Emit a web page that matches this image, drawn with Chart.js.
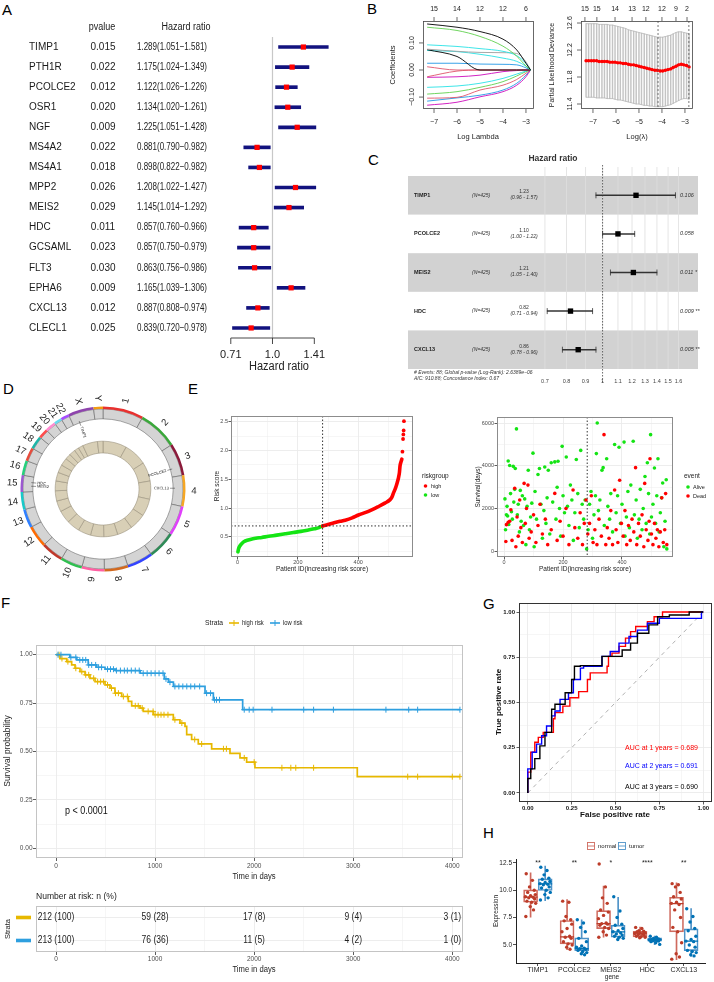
<!DOCTYPE html>
<html>
<head>
<meta charset="utf-8">
<title>Figure</title>
<script src="https://cdn.jsdelivr.net/npm/chart.js@4.4.1/dist/chart.umd.min.js"></script>
<style>
html,body{margin:0;padding:0;background:#fff}
body{width:714px;height:982px;position:relative;overflow:hidden;font-family:"Liberation Sans",Arial,sans-serif}
canvas{position:absolute}
.pl{position:absolute;font-size:15px;line-height:15px;color:#000}
</style>
</head>
<body>
<div class="pl" style="left:2px;top:2px">A</div>
<div class="pl" style="left:367px;top:1px">B</div>
<div class="pl" style="left:368px;top:152px">C</div>
<div class="pl" style="left:3px;top:381px">D</div>
<div class="pl" style="left:188px;top:381px">E</div>
<div class="pl" style="left:1px;top:595px">F</div>
<div class="pl" style="left:483px;top:596px">G</div>
<div class="pl" style="left:483px;top:825px">H</div>
<script>
// ===================== DATA =====================
// Panel A: univariate Cox
const aGenes = ['TIMP1','PTH1R','PCOLCE2','OSR1','NGF','MS4A2','MS4A1','MPP2','MEIS2','HDC','GCSAML','FLT3','EPHA6','CXCL13','CLECL1'];
const aPvalue = ['0.015','0.022','0.012','0.020','0.009','0.022','0.018','0.026','0.029','0.011','0.023','0.030','0.009','0.012','0.025'];
const aHR   = [1.289,1.175,1.122,1.134,1.225,0.881,0.898,1.208,1.145,0.857,0.857,0.863,1.165,0.887,0.839];
const aLow  = [1.051,1.024,1.026,1.020,1.051,0.790,0.822,1.022,1.014,0.760,0.750,0.756,1.039,0.808,0.720];
const aHigh = [1.581,1.349,1.226,1.261,1.428,0.982,0.982,1.427,1.292,0.966,0.979,0.986,1.306,0.974,0.978];
const aTicks = [0.71, 1.0, 1.41];
const aTickLabels = ['0.71','1.0','1.41'];

// Panel B left: LASSO coefficient paths
const bLam = [-7.3,-6,-5,-4,-3.4,-3,-2.8];
const bPaths = [
  [0.170,0.158,0.142,0.114,0.074,0.025,0],
  [0.158,0.146,0.124,0.088,0.051,0.015,0],
  [0.093,0.087,0.079,0.069,0.053,0.024,0],
  [0.077,0.069,0.065,0.064,0.061,0.030,0],
  [0.075,0.050,0,0,0,0,0],
  [0.072,0.068,0.058,0.044,0.032,0.014,0],
  [0.025,0.025,0.022,0.021,0.019,0.008,0],
  [0.012,0,0,0,0,0,0],
  [-0.025,-0.004,0,0,0,0,0],
  [-0.027,-0.025,-0.019,-0.006,-0.002,0,0],
  [-0.064,-0.059,-0.049,-0.031,-0.015,-0.004,0],
  [-0.089,-0.080,-0.064,-0.043,-0.022,-0.006,0],
  [-0.104,-0.101,-0.074,-0.056,-0.035,-0.012,0],
  [-0.130,-0.119,-0.099,-0.080,-0.056,-0.025,0],
  [-0.115,-0.103,-0.093,-0.074,-0.049,-0.019,0]
];
const bTopTicks = [-7,-6,-5,-4,-3];
const bTopLabels = ['15','14','12','12','6'];
const bXTicks = [-7,-6,-5,-4,-3];
const bYTicks = [-0.1,0,0.1];

// Panel B right: cross-validation
const bcvLam = [-7.30,-7.19,-7.07,-6.96,-6.84,-6.73,-6.61,-6.50,-6.38,-6.27,-6.15,-6.04,-5.92,-5.81,-5.69,-5.58,-5.46,-5.35,-5.23,-5.12,-5.00,-4.89,-4.77,-4.66,-4.54,-4.43,-4.31,-4.20,-4.08,-3.97,-3.85,-3.74,-3.62,-3.51,-3.39,-3.28,-3.16,-3.05,-2.93,-2.82];
const bcvMean = [12.04,12.04,12.04,12.04,12.04,12.03,12.03,12.03,12.03,12.02,12.02,12.02,12.01,12.01,12.00,12.00,11.99,11.98,11.98,11.97,11.96,11.95,11.94,11.93,11.92,11.91,11.90,11.90,11.89,11.89,11.90,11.91,11.92,11.94,11.96,11.98,11.99,11.98,11.97,11.95];
const bcvUp = [12.59,12.59,12.59,12.59,12.59,12.58,12.58,12.58,12.58,12.57,12.57,12.56,12.55,12.54,12.53,12.52,12.50,12.49,12.48,12.47,12.46,12.45,12.44,12.43,12.42,12.41,12.40,12.39,12.39,12.39,12.40,12.41,12.42,12.44,12.46,12.47,12.47,12.46,12.45,12.44];
const bcvLo = [11.50,11.50,11.50,11.50,11.49,11.49,11.49,11.49,11.48,11.48,11.48,11.47,11.46,11.46,11.45,11.44,11.43,11.42,11.41,11.40,11.40,11.39,11.38,11.38,11.37,11.37,11.36,11.36,11.36,11.36,11.37,11.38,11.39,11.41,11.43,11.45,11.47,11.48,11.48,11.47];
const bcvTopPos = [-7.35,-6.83,-6.04,-5.3,-4.7,-4.0,-3.39,-2.91];
const bcvTopLabels = ['15','15','14','13','12','12','9','2'];
const bcvYTicks = [11.4,11.8,12.2,12.6];
const bcvLambdaMin = -4.17, bcvLambda1se = -2.83;

// Panel C: multivariate Cox
const cGenes = ['TIMP1','PCOLCE2','MEIS2','HDC','CXCL13'];
const cN = ['(N=425)','(N=425)','(N=425)','(N=425)','(N=425)'];
const cHR = [1.23,1.10,1.21,0.82,0.86];
const cLow = [0.96,1.00,1.05,0.71,0.78];
const cHigh = [1.57,1.22,1.40,0.94,0.96];
const cP = ['0.106','0.058','0.011 *','0.009 **','0.005 **'];
const cTicks = [0.7,0.8,0.9,1,1.1,1.2,1.3,1.4,1.5,1.6];
const cTickLabels = ['0.7','0.8','0.9','1','1.1','1.2','1.3','1.4','1.5','1.6'];
const cFooter = ['# Events: 88; Global p-value (Log-Rank): 2.6389e\u221206','AIC: 910.88; Concordance Index: 0.67'];

// Panel D: chromosomes (Mb) and gene locations
const dChr = ['1','2','3','4','5','6','7','8','9','10','11','12','13','14','15','16','17','18','19','20','21','22','X','Y'];
const dLen = [248,242,198,190,181,171,159,145,138,134,135,133,114,107,102,90,83,80,59,64,47,51,156,57];
const dGenes = ['TIMP1','PCOLCE2','CXCL13','MEIS2','HDC'];
const dGeneChr = ['X','3','4','15','15'];
const dGenePos = [47.6,142.8,77.6,36.9,50.2];

// Panel E left: risk score curve (patient index, risk score)
const eRiskLow = [[1,0.24],[3,0.29],[6,0.33],[10,0.36],[15,0.39],[22,0.42],[32,0.44],[45,0.46],[60,0.475],[80,0.49],[103,0.51],[130,0.53],[158,0.553],[185,0.575],[210,0.595],[235,0.62],[255,0.64],[270,0.66],[281,0.685]];
const eRiskHigh = [[282,0.69],[300,0.715],[320,0.745],[340,0.77],[357,0.79],[380,0.83],[401,0.88],[425,0.925],[445,0.97],[465,1.02],[490,1.09],[506,1.147],[512,1.19],[517,1.26],[522,1.32],[526,1.38],[530,1.45],[534,1.53],[537,1.62],[539,1.735],[542,1.80],[545,1.85]];
const eRiskTop = [[547,1.98],[549,2.20],[550,2.28],[551,2.35],[552,2.51]];
const eCutPatient = 282, eCutScore = 0.69;

// Panel E right: survival status (patient index, days)
const eAlive = [[3,2450],[5,1000],[8,1700],[10,2100],[12,1650],[14,4230],[16,1250],[19,4020],[22,2700],[25,1850],[28,1500],[31,3980],[33,2300],[36,2900],[38,3880],[42,5740],[45,1700],[48,2200],[52,900],[55,2850],[58,1400],[62,2600],[66,1200],[70,2450],[74,300],[78,2100],[82,3800],[86,1000],[90,1600],[94,2250],[98,4600],[102,200],[105,2800],[110,1500],[115,3600],[120,3880],[125,2200],[130,600],[135,1900],[138,3950],[142,1300],[146,2500],[150,3800],[155,800],[160,4150],[165,2300],[172,4190],[176,1500],[180,3000],[183,4220],[188,2000],[192,700],[197,4920],[200,2600],[205,1800],[211,4420],[215,2100],[220,1200],[225,3100],[230,2400],[235,500],[240,1800],[245,4300],[250,2700],[255,1100],[260,4730],[265,2200],[270,1500],[275,2400],[280,100],[285,1000],[290,2200],[295,2800],[300,600],[305,1700],[310,2600],[313,4580],[316,6020],[320,1900],[325,2400],[332,3800],[336,3920],[340,1200],[348,4340],[352,2100],[358,1500],[362,2700],[368,900],[375,5010],[380,1800],[385,2600],[390,4880],[395,1300],[400,2200],[407,5120],[410,700],[415,1600],[420,2800],[425,1100],[430,3100],[438,5160],[442,1700],[448,2400],[452,600],[458,1500],[462,2900],[468,1000],[472,2000],[478,3500],[482,1300],[486,4150],[490,2700],[494,800],[497,5470],[500,1600],[505,2200],[510,3900],[514,1300],[518,2600],[522,4340],[526,900],[530,1800],[534,2500],[538,3200],[542,200],[546,1400],[550,3350],[552,100]];
const eDead = [[6,450],[8,1240],[14,1350],[19,1400],[23,1940],[27,500],[36,2950],[40,200],[44,1600],[48,700],[53,2400],[57,1100],[62,400],[68,3180],[72,1300],[76,2000],[81,3100],[85,600],[92,900],[100,1700],[108,400],[115,1200],[122,2200],[130,800],[140,1500],[148,300],[160,1000],[172,2710],[180,500],[190,1400],[200,700],[210,2000],[220,300],[234,2870],[240,1100],[250,600],[258,1800],[266,300],[272,1300],[278,2400],[284,800],[290,1300],[296,2600],[302,400],[308,1000],[315,300],[322,1500],[330,700],[339,5470],[345,300],[350,1100],[356,600],[362,1900],[368,300],[375,2870],[380,1000],[386,400],[392,3330],[398,1300],[404,700],[410,1900],[416,300],[422,1200],[428,500],[434,1500],[440,900],[446,3920],[450,300],[456,1300],[462,700],[468,1700],[474,200],[477,3180],[482,1000],[488,500],[492,1400],[495,4340],[500,800],[505,300],[510,1300],[515,600],[520,1000],[525,200],[530,900],[535,2500],[540,400],[545,1000],[548,2700],[552,300]];

// Panel F: Kaplan-Meier (time, survival after time)
const fHigh = [[0,1],[40,0.98],[108,0.964],[158,0.947],[192,0.93],[242,0.913],[293,0.896],[343,0.878],[394,0.861],[495,0.844],[545,0.827],[595,0.801],[663,0.784],[730,0.759],[764,0.736],[848,0.724],[881,0.707],[982,0.69],[1184,0.664],[1251,0.647],[1302,0.63],[1319,0.587],[1369,0.562],[1436,0.539],[1571,0.514],[1756,0.49],[1857,0.467],[1924,0.445],[2008,0.416],[3041,0.37],[4077,0.37]];
const fLow = [[0,1],[140,0.986],[210,0.973],[325,0.947],[410,0.935],[495,0.925],[600,0.918],[850,0.904],[1093,0.875],[1135,0.858],[1185,0.836],[1504,0.801],[1588,0.767],[1884,0.716],[4077,0.716]];
const fHighCens = [30,60,120,200,260,300,330,380,420,450,480,520,560,600,630,680,720,800,830,870,930,980,1000,1030,1060,1090,1130,1200,1270,1400,1470,1690,1720,1900,2000,2280,2370,2420,2600,3550,3650,4000,4077];
const fLowCens = [20,50,150,200,240,270,300,330,360,400,430,460,520,550,580,610,650,690,720,760,800,840,880,920,960,1000,1040,1080,1110,1150,1200,1240,1280,1320,1360,1400,1450,1520,1560,1600,1620,1650,1900,1950,1990,2180,2500,2600,2800,3330,3560,3650,4077];
const fRiskTimes = [0,1000,2000,3000,4000];
const fRiskHighN = [212,59,17,9,3], fRiskHighPct = [100,28,8,4,1];
const fRiskLowN = [213,76,11,4,1], fRiskLowPct = [100,36,5,2,0];
const fStrata = ['high risk','low risk'];

// Panel G: time-dependent ROC (FPR, TPR)
const gRoc1 = [[0,0],[0.017,0.115],[0.04,0.225],[0.06,0.28],[0.088,0.307],[0.146,0.335],[0.155,0.41],[0.2,0.444],[0.24,0.48],[0.29,0.526],[0.34,0.56],[0.356,0.627],[0.452,0.664],[0.46,0.7],[0.48,0.755],[0.52,0.773],[0.557,0.81],[0.586,0.856],[0.615,0.892],[0.682,0.92],[0.72,0.947],[0.768,0.974],[0.816,1.0],[1,1]];
const gRoc2 = [[0,0],[0.025,0.133],[0.05,0.225],[0.079,0.27],[0.107,0.316],[0.136,0.37],[0.155,0.426],[0.184,0.453],[0.232,0.517],[0.26,0.554],[0.3,0.627],[0.318,0.69],[0.423,0.7],[0.47,0.755],[0.52,0.782],[0.577,0.828],[0.625,0.865],[0.682,0.9],[0.75,0.938],[0.826,0.965],[0.99,0.965],[1,1]];
const gRoc3 = [[0,0],[0.017,0.08],[0.04,0.133],[0.069,0.19],[0.098,0.26],[0.136,0.335],[0.155,0.463],[0.213,0.49],[0.25,0.554],[0.266,0.627],[0.3,0.7],[0.423,0.704],[0.46,0.755],[0.538,0.755],[0.586,0.79],[0.625,0.828],[0.69,0.883],[0.74,0.929],[0.807,0.974],[0.92,0.984],[1,1]];
const gAUC = ['AUC at 1 years = 0.689','AUC at 2 years = 0.691','AUC at 3 years = 0.690'];

// Panel H: expression boxplots
const hCats = ['TIMP1','PCOLCE2','MEIS2','HDC','CXCL13'];
const hSig = ['**','**','*','****','**'];
const hNormQ1 = [8.90,5.09,6.49,5.73,6.19], hNormMed = [9.36,5.73,6.95,6.07,8.78], hNormQ3 = [10.03,7.23,8.14,6.25,9.36], hNormLo = [7.53,4.57,5.70,5.64,3.66], hNormHi = [11.58,9.15,10.37,6.62,10.67];
const hTumQ1 = [9.97,4.48,5.70,5.34,4.48], hTumMed = [10.58,4.66,6.19,5.49,5.34], hTumQ3 = [11.04,5.64,6.80,5.64,6.46], hTumLo = [9.05,4.12,5.43,5.03,3.96], hTumHi = [12.20,7.29,9.36,5.80,8.32];
const hNormPts = [
  [11.5,10.9,10.3,10.0,9.8,9.6,9.5,9.4,9.35,9.3,9.2,9.0,8.9,8.8,8.5,8.2,7.6],
  [9.0,8.9,7.6,7.3,7.2,6.9,6.5,6.2,5.8,5.7,5.6,5.3,5.1,5.0,4.8,4.6],
  [12.4,10.3,9.3,8.8,8.2,8.0,7.7,7.4,7.0,6.95,6.9,6.8,6.6,6.5,6.2,5.9,5.7],
  [6.6,6.5,6.3,6.25,6.2,6.1,6.07,6.05,6.0,5.95,5.9,5.8,5.75,5.7,5.65],
  [10.6,10.5,10.3,9.8,9.4,9.2,8.9,8.8,8.7,8.2,7.5,6.6,6.2,5.2,4.2,3.9,3.7]
];
const hTumPts = [
  [12.1,11.8,11.4,11.1,11.0,10.8,10.7,10.6,10.55,10.5,10.3,10.2,10.0,9.8,9.6,9.3,9.1],
  [7.3,7.0,6.6,6.2,5.6,5.3,4.9,4.8,4.7,4.65,4.6,4.5,4.4,4.3,4.2,4.1],
  [9.4,8.1,7.5,6.9,6.8,6.5,6.3,6.2,6.1,6.0,5.9,5.8,5.7,5.6,5.5],
  [5.8,5.7,5.6,5.55,5.5,5.5,5.48,5.45,5.4,5.38,5.35,5.3,5.2,5.05],
  [8.3,7.6,7.1,6.5,6.3,5.8,5.5,5.35,5.3,5.0,4.8,4.5,4.4,4.3,4.1,4.0]
];
const hYTicks = [5,7.5,10,12.5];

// ===================== STYLE CONSTANTS =====================
const FAM = '"Liberation Sans", Arial, Helvetica, sans-serif';
const PATH_COLORS = ['#000000','#61D04F','#28E2E5','#9e9e9e','#000000','#28E2E5','#2297E6','#DF536B','#DF536B','#CD0BBC','#28E2E5','#61D04F','#DF536B','#CD0BBC','#2297E6'];
const CHR_COLORS = ['#e8312f','#3aa83a','#8b1a3a','#f5a623','#e040fb','#2e8b57','#3344ff','#d2691e','#ff5fa2','#2fbf4f','#c0392b','#ff6a00','#2f7fff','#19c9c9','#9b59d0','#26d07c','#e74c3c','#1fb5a8','#ff4d4d','#ff8ad0','#66d9ef','#a64dff','#8e44ad','#f39c12'];
const JITTER = [-0.12,0.05,-0.03,0.10,-0.08,0.13,0.0,-0.14,0.07,-0.05,0.11,-0.10,0.03,0.14,-0.01,0.08,-0.13];
const GREEN = '#14e414', RED = '#ff0000';

Chart.defaults.font.family = FAM;
Chart.defaults.color = '#333';
Chart.defaults.animation = false;
Chart.defaults.events = [];
Chart.defaults.responsive = false;
Chart.defaults.maintainAspectRatio = false;
Chart.defaults.plugins.legend.display = false;
Chart.defaults.plugins.tooltip.enabled = false;

function mk(L,T,W,H){
  const c=document.createElement('canvas');
  c.width=W; c.height=H;
  c.style.left=L+'px'; c.style.top=T+'px'; c.style.width=W+'px'; c.style.height=H+'px';
  document.body.appendChild(c); return c;
}
function tx(ctx,s,x,y,o){
  o=o||{}; ctx.save();
  ctx.font=[o.style,o.weight,(o.size||8)+'px',FAM].filter(Boolean).join(' ');
  ctx.fillStyle=o.color||'#222'; ctx.textAlign=o.align||'left'; ctx.textBaseline=o.base||'middle';
  ctx.translate(x,y); if(o.rot) ctx.rotate(o.rot); if(o.sx) ctx.scale(o.sx,1);
  ctx.fillText(s,0,0); ctx.restore();
}
function ln(ctx,x1,y1,x2,y2,col,w,dash){
  ctx.save(); ctx.strokeStyle=col; ctx.lineWidth=w||1; if(dash) ctx.setLineDash(dash);
  ctx.beginPath(); ctx.moveTo(x1,y1); ctx.lineTo(x2,y2); ctx.stroke(); ctx.restore();
}
function deco(L,T,before,after){
  const run=(fn,ch)=>{ if(!fn) return; const c=ch.ctx; c.save(); c.translate(-L,-T);
    fn(ch,c,(v)=>ch.scales.x.getPixelForValue(v)+L,(v)=>ch.scales.y.getPixelForValue(v)+T); c.restore(); };
  return {id:'deco', beforeDatasetsDraw(ch){run(before,ch);}, afterDatasetsDraw(ch){run(after,ch);}};
}
function frame(ch,c,L,T,col,w){
  const a=ch.chartArea; c.save(); c.strokeStyle=col; c.lineWidth=w||1;
  c.strokeRect(a.left+L+0.5,a.top+T+0.5,a.right-a.left-1,a.bottom-a.top-1); c.restore();
}
function ggAxis(vals,majors,fmt,o){
  o=o||{};
  const isM=(c)=>c&&c.tick&&majors.includes(c.tick.value);
  return {
    type:'linear', min:o.min, max:o.max, offset:false,
    afterBuildTicks:(s)=>{ s.ticks=vals.map(v=>({value:v})); },
    afterFit:o.fit,
    grid:{offset:false, color:o.gc||'#ebebeb', lineWidth:(c)=>isM(c)?0.9:0.45, drawTicks:true, tickLength:o.tl||2.5,
          tickColor:(c)=>isM(c)?(o.tcc||'#333'):'rgba(0,0,0,0)', tickWidth:0.8},
    border:{display:false},
    ticks:{autoSkip:false, maxRotation:0, minRotation:0, padding:o.pad||0, font:{size:o.fs||5.5, weight:o.fw||'normal'}, color:o.tcol||'#4d4d4d',
           callback:(v)=>majors.includes(v)?fmt(v):''}
  };
}

// ===================== PANEL A =====================
{
  const L=0,T=0,W=360,H=380;
  new Chart(mk(L,T,W,H),{
    type:'bar',
    data:{labels:aGenes, datasets:[
      {type:'scatter', data:aGenes.map((g,i)=>({x:aHR[i],y:g})), pointStyle:'rect', pointRadius:3.7, backgroundColor:'#ff0000', borderWidth:0, order:1},
      {type:'bar', indexAxis:'y', data:aGenes.map((g,i)=>[aLow[i],aHigh[i]]), backgroundColor:'#12127e', barThickness:3, grouped:false, borderWidth:0, order:2}
    ]},
    options:{layout:{padding:{left:225,right:20,top:37,bottom:42}},
      scales:{x:{type:'logarithmic',min:0.677,max:1.741,display:false}, y:{type:'category',labels:aGenes,offset:true,display:false}}},
    plugins:[deco(L,T,(ch,c,X,Y)=>{
      ln(c,X(1),37,X(1),338,'#c8c8c8',1.2);
    },(ch,c,X,Y)=>{
      tx(c,'pvalue',102,27,{size:10,align:'center',color:'#1a1a1a',sx:0.9});
      tx(c,'Hazard ratio',186,27,{size:10,align:'center',color:'#1a1a1a',sx:0.9});
      aGenes.forEach((g,i)=>{
        const y=Y(i);
        tx(c,g,29,y,{size:10,color:'#1a1a1a'});
        tx(c,aPvalue[i],103,y,{size:10,align:'center',color:'#1a1a1a'});
        tx(c,aHR[i].toFixed(3)+'('+aLow[i].toFixed(3)+'\u2212'+aHigh[i].toFixed(3)+')',172,y,{size:10,align:'center',color:'#1a1a1a',sx:0.8});
      });
      ln(c,X(aTicks[0]),338,X(aTicks[aTicks.length-1]),338,'#333',0.9);
      aTicks.forEach((t,i)=>{ ln(c,X(t),338,X(t),344,'#333',0.9); tx(c,aTickLabels[i],X(t),355,{size:11,align:'center',color:'#222'}); });
      tx(c,'Hazard ratio',279,367,{size:12.5,align:'center',color:'#222',sx:0.88});
    })]
  });
}

// ===================== PANEL B left =====================
{
  const L=380,T=0,W=165,H=145;
  new Chart(mk(L,T,W,H),{
    type:'scatter',
    data:{datasets:bPaths.map((p,k)=>({type:'line', data:p.map((v,i)=>({x:bLam[i],y:v})), borderColor:PATH_COLORS[k], borderWidth:0.9, pointRadius:0, cubicInterpolationMode:'monotone'}))},
    options:{layout:{padding:{left:43,top:21,right:11,bottom:36}},
      scales:{x:{type:'linear',min:-7.48,max:-2.65,display:false}, y:{type:'linear',min:-0.144,max:0.181,display:false}}},
    plugins:[deco(L,T,null,(ch,c,X,Y)=>{
      frame(ch,c,L,T,'#444',0.8);
      const a=ch.chartArea, top=a.top+T, bot=a.bottom+T, left=a.left+L;
      bXTicks.forEach(t=>{ ln(c,X(t),bot,X(t),bot+4,'#444',0.8); tx(c,String(t).replace('-','\u2212'),X(t),122,{size:7,align:'center'}); });
      bTopTicks.forEach((t,i)=>{ ln(c,X(t),top,X(t),top-4,'#444',0.8); tx(c,bTopLabels[i],X(t),9,{size:7,align:'center'}); });
      bYTicks.forEach(t=>{ ln(c,left,Y(t),left-4,Y(t),'#444',0.8); tx(c,t.toFixed(2).replace('-','\u2212'),412,Y(t),{size:7,align:'center',rot:-Math.PI/2}); });
      tx(c,'Coefficients',393,65,{size:7.5,align:'center',rot:-Math.PI/2});
      tx(c,'Log Lambda',478,137,{size:7.5,align:'center'});
    })]
  });
}

// ===================== PANEL B right =====================
{
  const L=540,T=0,W=174,H=145;
  new Chart(mk(L,T,W,H),{
    type:'scatter',
    data:{datasets:[
      {type:'line', data:bcvLam.map((x,i)=>({x,y:bcvMean[i]})), borderColor:'#ff0000', backgroundColor:'#ff0000', borderWidth:2.2, pointRadius:1.7, pointBorderWidth:0},
      {type:'line', data:bcvLam.map((x,i)=>({x,y:bcvUp[i]})), borderColor:'#b8b8b8', borderWidth:0.8, pointRadius:0},
      {type:'line', data:bcvLam.map((x,i)=>({x,y:bcvLo[i]})), borderColor:'#b8b8b8', borderWidth:0.8, pointRadius:0},
      {type:'bar', data:bcvLam.map((x,i)=>({x,y:[bcvLo[i],bcvUp[i]]})), backgroundColor:'#c4c4c4', barThickness:0.8, grouped:false, borderWidth:0}
    ]},
    options:{layout:{padding:{left:41,top:21,right:21,bottom:36}},
      scales:{x:{type:'linear',min:-7.52,max:-2.65,display:false,offset:false,grid:{offset:false}}, y:{type:'linear',min:11.326,max:12.63,display:false}}},
    plugins:[deco(L,T,null,(ch,c,X,Y)=>{
      const a=ch.chartArea, top=a.top+T, bot=a.bottom+T, left=a.left+L;
      ln(c,X(bcvLambdaMin),top,X(bcvLambdaMin),bot,'#555',0.8,[2,2]);
      ln(c,X(bcvLambda1se),top,X(bcvLambda1se),bot,'#555',0.8,[2,2]);
      frame(ch,c,L,T,'#444',0.8);
      bXTicks.forEach(t=>{ ln(c,X(t),bot,X(t),bot+4,'#444',0.8); tx(c,String(t).replace('-','\u2212'),X(t),122,{size:7,align:'center'}); });
      bcvTopPos.forEach((t,i)=>{ ln(c,X(t),top,X(t),top-4,'#444',0.8); tx(c,bcvTopLabels[i],X(t),9,{size:7,align:'center'}); });
      bcvYTicks.forEach(t=>{ ln(c,left,Y(t),left-4,Y(t),'#444',0.8); tx(c,t.toFixed(1),570,Y(t),{size:7,align:'center',rot:-Math.PI/2}); });
      tx(c,'Partial Likelihood Deviance',552,65,{size:7,align:'center',rot:-Math.PI/2});
      tx(c,'Log(\u03bb)',637,137,{size:7.5,align:'center'});
    })]
  });
}

// ===================== PANEL C =====================
{
  const L=360,T=150,W=354,H=240;
  new Chart(mk(L,T,W,H),{
    type:'bar',
    data:{labels:cGenes, datasets:[
      {type:'scatter', data:cGenes.map((g,i)=>({x:cHR[i],y:g})), pointStyle:'rect', pointRadius:3.8, backgroundColor:'#000', borderWidth:0, order:1},
      {type:'scatter', data:cGenes.flatMap((g,i)=>[{x:cLow[i],y:g},{x:cHigh[i],y:g}]), pointStyle:'line', rotation:90, pointRadius:3, borderColor:'#333', borderWidth:0.8, order:2},
      {type:'bar', indexAxis:'y', data:cGenes.map((g,i)=>[cLow[i],cHigh[i]]), backgroundColor:'#333', barThickness:0.8, grouped:false, borderWidth:0, order:3}
    ]},
    options:{layout:{padding:{left:48,right:16,top:26,bottom:21}},
      scales:{x:{type:'logarithmic',min:0.3143,max:1.805,display:false}, y:{type:'category',labels:cGenes,offset:true,display:false}}},
    plugins:[deco(L,T,(ch,c,X,Y)=>{
      const a=ch.chartArea, left=a.left+L, right=a.right+L, rowH=(a.bottom-a.top)/cGenes.length;
      cGenes.forEach((g,i)=>{ if(i%2===0){ c.fillStyle='#d2d2d2'; c.fillRect(left,Y(i)-rowH/2,right-left,rowH);} });
      cTicks.forEach(t=>ln(c,X(t),167,X(t),a.bottom+T,'#dedede',0.8));
      ln(c,X(1),165,X(1),383,'#444',0.8,[1.5,1.5]);
    },(ch,c,X,Y)=>{
      tx(c,'Hazard ratio',553,159,{size:8.5,weight:'bold',align:'center',color:'#333'});
      cGenes.forEach((g,i)=>{
        const y=Y(i);
        tx(c,g,414,y,{size:5.5,weight:'bold',color:'#222'});
        tx(c,cN[i],472,y,{size:5,style:'italic',color:'#333'});
        tx(c,cHR[i].toFixed(2),524,y-3.5,{size:5,align:'center',color:'#333'});
        tx(c,'('+cLow[i].toFixed(2)+' - '+cHigh[i].toFixed(2)+')',524,y+2.5,{size:5,style:'italic',align:'center',color:'#333'});
        tx(c,cP[i],680,y,{size:5.5,style:'italic',color:'#333'});
      });
      tx(c,cFooter[0],414,373,{size:5,style:'italic',color:'#333'});
      tx(c,cFooter[1],414,379,{size:5,style:'italic',color:'#333'});
      cTicks.forEach((t,i)=>tx(c,cTickLabels[i],X(t),381,{size:5.5,align:'center',color:'#444'}));
    })]
  });
}

// ===================== PANEL D =====================
{
  const L=0,T=385,W=206,H=208;
  new Chart(mk(L,T,W,H),{
    type:'doughnut',
    data:{labels:dChr, datasets:[
      {data:dLen, backgroundColor:CHR_COLORS, borderWidth:0, weight:2},
      {data:dLen, backgroundColor:'#d4d4d4', borderColor:'#555', borderWidth:0.5, weight:8},
      {data:dLen, backgroundColor:'rgba(0,0,0,0)', borderWidth:0, weight:18},
      {data:dLen, backgroundColor:'#d8cfb6', borderColor:'#9b927d', borderWidth:0.6, weight:9.5}
    ]},
    options:{radius:82.5, cutout:45},
    plugins:[deco(L,T,null,(ch,c)=>{
      const arcs=ch.getDatasetMeta(0).data;
      const radial=(a)=> (Math.cos(a)<-0.01 ? a+Math.PI : a);
      arcs.forEach((el,i)=>{
        const a=(el.startAngle+el.endAngle)/2, cx=el.x+L, cy=el.y+T, r=91;
        tx(c,dChr[i],cx+r*Math.cos(a),cy+r*Math.sin(a),{size:9.5,align:'center',color:'#222',rot:radial(a)});
      });
      let prev=null;
      dGenes.forEach((g,k)=>{
        const idx=dChr.indexOf(dGeneChr[k]); const el=arcs[idx];
        let a=el.startAngle+(dGenePos[k]/dLen[idx])*(el.endAngle-el.startAngle);
        if(prev!==null && Math.abs(a-prev)<0.05) a=prev+0.05;
        prev=a;
        const cx=el.x+L, cy=el.y+T;
        ln(c,cx+72*Math.cos(a),cy+72*Math.sin(a),cx+67*Math.cos(a),cy+67*Math.sin(a),'#333',0.5);
        const flip=Math.cos(a)<-0.01;
        tx(c,g,cx+66*Math.cos(a),cy+66*Math.sin(a),{size:4,color:'#222',align:flip?'left':'right',rot:flip?a+Math.PI:a});
      });
    })]
  });
}

// ===================== PANEL E left =====================
{
  const L=190,T=405,W=260,H=172;
  new Chart(mk(L,T,W,H),{
    type:'scatter',
    data:{datasets:[
      {data:eRiskTop.map(p=>({x:p[0],y:p[1]})), pointRadius:1.9, backgroundColor:RED, borderWidth:0},
      {type:'line', data:eRiskHigh.map(p=>({x:p[0],y:p[1]})), borderColor:RED, borderWidth:3.6, pointRadius:0, cubicInterpolationMode:'monotone', borderCapStyle:'round'},
      {type:'line', data:eRiskLow.map(p=>({x:p[0],y:p[1]})), borderColor:GREEN, borderWidth:3.6, pointRadius:0, cubicInterpolationMode:'monotone', borderCapStyle:'round'}
    ]},
    options:{layout:{padding:{top:11,right:37}},
      scales:{
        x:ggAxis([0,100,200,300,400,500],[0,200,400],v=>String(v),{min:-22,max:582,fit:s=>{s.height=20;}}),
        y:ggAxis([0.25,0.5,0.75,1,1.25,1.5,1.75,2,2.25,2.5],[0.5,1,1.5,2,2.5],v=>v.toFixed(1),{min:0.15,max:2.6,fit:s=>{s.width=41;},pad:0.5})
      }},
    plugins:[deco(L,T,null,(ch,c,X,Y)=>{
      const a=ch.chartArea;
      ln(c,X(eCutPatient),a.top+T,X(eCutPatient),a.bottom+T,'#333',1,[1.5,2]);
      ln(c,a.left+L,Y(eCutScore),a.right+L,Y(eCutScore),'#333',1,[1.5,2]);
      frame(ch,c,L,T,'#8c8c8c',1);
      tx(c,'Risk score',217,486,{size:6.5,align:'center',rot:-Math.PI/2});
      tx(c,'Patient ID(increasing risk score)',322,569.5,{size:6.5,align:'center'});
      tx(c,'riskgroup',422,476,{size:6.5});
      c.fillStyle=RED; c.beginPath(); c.arc(425.5,486,1.8,0,7); c.fill();
      c.fillStyle=GREEN; c.beginPath(); c.arc(425.5,495,1.8,0,7); c.fill();
      tx(c,'high',431,486,{size:5.5}); tx(c,'low',431,495,{size:5.5});
    })]
  });
}

// ===================== PANEL E right =====================
{
  const L=450,T=405,W=264,H=172;
  new Chart(mk(L,T,W,H),{
    type:'scatter',
    data:{datasets:[
      {data:eDead.map(p=>({x:p[0],y:p[1]})), pointRadius:1.8, backgroundColor:RED, borderWidth:0},
      {data:eAlive.map(p=>({x:p[0],y:p[1]})), pointRadius:1.8, backgroundColor:GREEN, borderWidth:0}
    ]},
    options:{layout:{padding:{top:12,right:41}},
      scales:{
        x:ggAxis([0,100,200,300,400,500],[0,200,400],v=>String(v),{min:-24,max:573,fit:s=>{s.height=20;}}),
        y:ggAxis([0,1000,2000,3000,4000,5000,6000],[0,2000,4000,6000],v=>String(v),{min:-280,max:6300,fit:s=>{s.width=47;},pad:0.5})
      }},
    plugins:[deco(L,T,null,(ch,c,X,Y)=>{
      const a=ch.chartArea;
      ln(c,X(eCutPatient),a.top+T,X(eCutPatient),a.bottom+T,'#333',1,[1.5,2]);
      frame(ch,c,L,T,'#8c8c8c',1);
      tx(c,'Survival(days)',478,487,{size:6.5,align:'center',rot:-Math.PI/2});
      tx(c,'Patient ID(increasing risk score)',585,569.5,{size:6.5,align:'center'});
      tx(c,'event',684,476,{size:6.5});
      c.fillStyle=GREEN; c.beginPath(); c.arc(688,487,1.8,0,7); c.fill();
      c.fillStyle=RED; c.beginPath(); c.arc(688,496,1.8,0,7); c.fill();
      tx(c,'Alive',693,487,{size:5.5}); tx(c,'Dead',693,496,{size:5.5});
    })]
  });
}

// ===================== PANEL F (KM) =====================
const survAt=(curve,t)=>{ let s=curve[0][1]; for(const p of curve){ if(p[0]<=t) s=p[1]; } return s; };
const F_HIGH='#E7B800', F_LOW='#2E9FDF';
{
  const L=0,T=610,W=470,H=275;
  const xv=[0,500,1000,1500,2000,2500,3000,3500,4000], xm=[0,1000,2000,3000,4000];
  new Chart(mk(L,T,W,H),{
    type:'scatter',
    data:{datasets:[
      {data:fLowCens.map(t=>({x:t,y:survAt(fLow,t)})), pointStyle:'cross', pointRadius:3, borderColor:F_LOW, borderWidth:1},
      {data:fHighCens.map(t=>({x:t,y:survAt(fHigh,t)})), pointStyle:'cross', pointRadius:3, borderColor:F_HIGH, borderWidth:1},
      {type:'line', data:fLow.map(p=>({x:p[0],y:p[1]})), stepped:true, borderColor:F_LOW, borderWidth:1.7, pointRadius:0},
      {type:'line', data:fHigh.map(p=>({x:p[0],y:p[1]})), stepped:true, borderColor:F_HIGH, borderWidth:1.7, pointRadius:0}
    ]},
    options:{layout:{padding:{top:35,right:7}},
      scales:{
        x:ggAxis(xv,xm,v=>String(v),{min:-202,max:4108,fit:s=>{s.height=27;},fs:6.5,pad:1.5,tl:3}),
        y:ggAxis([0,0.125,0.25,0.375,0.5,0.625,0.75,0.875,1],[0,0.25,0.5,0.75,1],v=>v.toFixed(2),{min:-0.05,max:1.05,fit:s=>{s.width=36;},fs:6.5,pad:0.5,tl:3})
      }},
    plugins:[deco(L,T,null,(ch,c,X,Y)=>{
      frame(ch,c,L,T,'#c4c4c4',1);
      tx(c,'Survival probability',8,751,{size:8.5,align:'center',rot:-Math.PI/2});
      tx(c,'Time in days',254,877,{size:8.5,align:'center',sx:0.9});
      tx(c,'p < 0.0001',65,811,{size:10,color:'#111',sx:0.9});
      tx(c,'Strata',205,623,{size:7.5,sx:0.9});
      ln(c,229,623,239,623,F_HIGH,1.6); ln(c,234,620,234,626,F_HIGH,1);
      tx(c,fStrata[0],242,623,{size:6.5,sx:0.9});
      ln(c,270,623,280,623,F_LOW,1.6); ln(c,275,620,275,626,F_LOW,1);
      tx(c,fStrata[1],283,623,{size:6.5,sx:0.9});
    })]
  });
}
// risk table
{
  const L=0,T=885,W=470,H=97;
  const xv=[0,500,1000,1500,2000,2500,3000,3500,4000], xm=[0,1000,2000,3000,4000];
  new Chart(mk(L,T,W,H),{
    type:'scatter',
    data:{datasets:[
      {data:fRiskTimes.map(t=>({x:t,y:fStrata[0]})), pointRadius:0},
      {data:fRiskTimes.map(t=>({x:t,y:fStrata[1]})), pointRadius:0}
    ]},
    options:{layout:{padding:{top:21,right:7}},
      scales:{
        x:ggAxis(xv,xm,v=>String(v),{min:-202,max:4108,fit:s=>{s.height=30;},fs:6.5,pad:0.7,tl:3}),
        y:{type:'category',labels:fStrata,offset:true,grid:{color:'#ebebeb',lineWidth:0.9,drawTicks:false},ticks:{display:false},border:{display:false},afterFit:s=>{s.width=36;}}
      }},
    plugins:[deco(L,T,null,(ch,c,X,Y)=>{
      frame(ch,c,L,T,'#c4c4c4',1);
      const rows=[[fRiskHighN,fRiskHighPct,F_HIGH],[fRiskLowN,fRiskLowPct,F_LOW]];
      rows.forEach((r,k)=>{
        const meta=ch.getDatasetMeta(k);
        meta.data.forEach((el,i)=>tx(c,r[0][i]+' ('+r[1][i]+')',el.x+L,el.y+T,{size:10,align:'center',color:'#222',sx:0.85}));
        const y=Y(k); c.fillStyle=r[2]; c.fillRect(16,y-1.8,15,3.6);
      });
      tx(c,'Number at risk: n (%)',36,896,{size:9.5,color:'#222',sx:0.9});
      tx(c,'Strata',8,929,{size:7.5,align:'center',rot:-Math.PI/2});
      tx(c,'Time in days',254,970,{size:8.5,align:'center',sx:0.9});
    })]
  });
}

// ===================== PANEL G (ROC) =====================
{
  const L=470,T=595,W=244,H=230;
  const gv=[0,0.125,0.25,0.375,0.5,0.625,0.75,0.875,1], gm=[0,0.25,0.5,0.75,1];
  const pts=a=>a.map(p=>({x:p[0],y:p[1]}));
  new Chart(mk(L,T,W,H),{
    type:'scatter',
    data:{datasets:[
      {type:'line', data:pts(gRoc3), stepped:'after', borderColor:'#000000', borderWidth:1.4, pointRadius:0},
      {type:'line', data:pts(gRoc2), stepped:'after', borderColor:'#0000ff', borderWidth:1.4, pointRadius:0},
      {type:'line', data:pts(gRoc1), stepped:'after', borderColor:'#ff0000', borderWidth:1.4, pointRadius:0},
      {type:'line', data:[{x:0,y:0},{x:1,y:1}], borderColor:'#b0b0b0', borderDash:[4,4], borderWidth:1, pointRadius:0}
    ]},
    options:{layout:{padding:{top:8,right:2}},
      scales:{
        x:ggAxis(gv,gm,v=>v.toFixed(2),{min:-0.05,max:1.05,fit:s=>{s.height=23;},fs:6,fw:'bold',tcol:'#111',pad:0.5,tl:2.5}),
        y:ggAxis(gv,gm,v=>v.toFixed(2),{min:-0.05,max:1.05,fit:s=>{s.width=49;},fs:6,fw:'bold',tcol:'#111',pad:1.5,tl:2.5})
      }},
    plugins:[deco(L,T,null,(ch,c,X,Y)=>{
      frame(ch,c,L,T,'#333',1);
      tx(c,'True positive rate',499,702,{size:8,weight:'bold',align:'center',rot:-Math.PI/2,color:'#111'});
      tx(c,'False positive rate',615,815,{size:8,weight:'bold',align:'center',color:'#111'});
      tx(c,gAUC[0],625,748,{size:7,color:'#ff0000'});
      tx(c,gAUC[1],625,766,{size:7,color:'#0000ff'});
      tx(c,gAUC[2],625,787,{size:7,color:'#000'});
    })]
  });
}

// ===================== PANEL H (boxplots) =====================
{
  const L=470,T=838,W=244,H=144;
  const NC='#BC3C29', TC='#0072B5', NB='#cf6a5e', TB='#4f93c8';
  const off=0.2;
  const jit=(arr,base)=>arr.flatMap((vals,i)=>vals.map((v,j)=>({x:i+1+base+JITTER[j%JITTER.length],y:v})));
  new Chart(mk(L,T,W,H),{
    type:'bar',
    data:{datasets:[
      {type:'scatter', data:jit(hNormPts,-off), pointRadius:1.7, backgroundColor:NC, borderWidth:0},
      {type:'scatter', data:jit(hTumPts,off), pointRadius:1.7, backgroundColor:TC, borderWidth:0},
      {type:'scatter', data:hCats.map((g,i)=>({x:i+1-off,y:hNormMed[i]})), pointStyle:'line', pointRadius:7, borderColor:NC, borderWidth:1.3},
      {type:'scatter', data:hCats.map((g,i)=>({x:i+1+off,y:hTumMed[i]})), pointStyle:'line', pointRadius:7, borderColor:TC, borderWidth:1.3},
      {type:'bar', data:hCats.map((g,i)=>({x:i+1-off,y:[hNormQ1[i],hNormQ3[i]]})), backgroundColor:'rgba(255,255,255,0)', borderColor:NB, borderWidth:1, borderSkipped:false, barThickness:14, grouped:false},
      {type:'bar', data:hCats.map((g,i)=>({x:i+1+off,y:[hTumQ1[i],hTumQ3[i]]})), backgroundColor:'rgba(255,255,255,0)', borderColor:TB, borderWidth:1, borderSkipped:false, barThickness:14, grouped:false},
      {type:'bar', data:hCats.map((g,i)=>({x:i+1-off,y:[hNormLo[i],hNormQ1[i]]})), backgroundColor:NB, barThickness:1, grouped:false, borderWidth:0},
      {type:'bar', data:hCats.map((g,i)=>({x:i+1-off,y:[hNormQ3[i],hNormHi[i]]})), backgroundColor:NB, barThickness:1, grouped:false, borderWidth:0},
      {type:'bar', data:hCats.map((g,i)=>({x:i+1+off,y:[hTumLo[i],hTumQ1[i]]})), backgroundColor:TB, barThickness:1, grouped:false, borderWidth:0},
      {type:'bar', data:hCats.map((g,i)=>({x:i+1+off,y:[hTumQ3[i],hTumHi[i]]})), backgroundColor:TB, barThickness:1, grouped:false, borderWidth:0}
    ]},
    options:{layout:{padding:{top:21,right:6}},
      scales:{
        x:{type:'linear',min:0.4,max:5.6,offset:false,
           afterBuildTicks:s=>{ s.ticks=hCats.map((g,i)=>({value:i+1})); },
           afterFit:s=>{s.height=19;},
           grid:{offset:false,drawOnChartArea:false,drawTicks:true,tickLength:3,color:'#222',tickWidth:0.8},
           border:{display:true,color:'#222',width:1},
           ticks:{autoSkip:false,maxRotation:0,padding:0,font:{size:7},color:'#222',callback:v=>hCats[v-1]}},
        y:{type:'linear',min:3.35,max:12.85,offset:false,
           afterBuildTicks:s=>{ s.ticks=hYTicks.map(v=>({value:v})); },
           afterFit:s=>{s.width=46;},
           grid:{drawOnChartArea:false,drawTicks:true,tickLength:3,color:'#222',tickWidth:0.8},
           border:{display:true,color:'#222',width:1},
           ticks:{autoSkip:false,padding:1,font:{size:6.5},color:'#222',callback:v=>v.toFixed(1)}}
      }},
    plugins:[deco(L,T,null,(ch,c,X,Y)=>{
      hCats.forEach((g,i)=>tx(c,hSig[i],X(i+1),863,{size:7,align:'center',color:'#222'}));
      tx(c,'Expression',496,911,{size:6.5,align:'center',rot:-Math.PI/2});
      tx(c,'gene',612,977,{size:6.5,align:'center'});
      c.save(); c.lineWidth=0.9;
      c.strokeStyle=NB; c.strokeRect(587.5,842.5,7,7); ln(c,587.5,846,594.5,846,NB,0.9);
      c.strokeStyle=TB; c.strokeRect(618.5,842.5,7,7); ln(c,618.5,846,625.5,846,TB,0.9);
      c.restore();
      tx(c,'normal',598,846,{size:6});
      tx(c,'tumor',629,846,{size:6});
    })]
  });
}
</script>
</body>
</html>
